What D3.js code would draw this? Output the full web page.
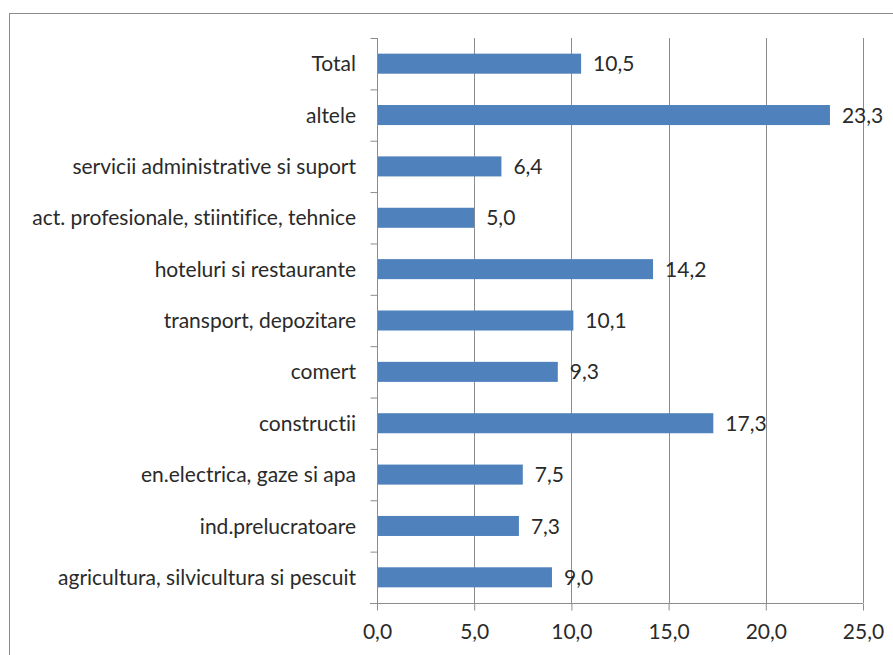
<!DOCTYPE html>
<html><head><meta charset="utf-8">
<script src="https://cdn.jsdelivr.net/npm/d3@7"></script>
<style>body{margin:0;background:#fff;}svg{display:block;}text{font-variant-ligatures:none;}</style>
</head><body>
<script>
const categories = ["Total","altele","servicii administrative si suport","act. profesionale, stiintifice, tehnice","hoteluri si restaurante","transport, depozitare","comert","constructii","en.electrica, gaze si apa","ind.prelucratoare","agricultura, silvicultura si pescuit"];
const values = [10.5,23.3,6.4,5.0,14.2,10.1,9.3,17.3,7.5,7.3,9.0];
const xTicks = [0,5,10,15,20,25];

(function(){
const W=893,H=655;
const svg=d3.select("body").append("svg").attr("width",W).attr("height",H);
svg.append("rect").attr("x",9.5).attr("y",13.5).attr("width",W).attr("height",H).attr("fill","none").attr("stroke","#8c8c8c");

const pLeft=377, pRight=863, pTop=38, pBottom=603;
const x=d3.scaleLinear().domain([0,25]).range([pLeft,pRight]);
const y=d3.scaleBand().domain(categories).range([pTop,pBottom]).paddingInner(0.61).paddingOuter(0.305);
const font="Lato, 'Open Sans', sans-serif";
const fs=21;
const fmt=v=>d3.format(".1f")(v).replace(".",",");

svg.append("g").selectAll("line").data(xTicks.filter(d=>d>0)).join("line")
  .attr("x1",d=>Math.round(x(d))+0.5).attr("x2",d=>Math.round(x(d))+0.5)
  .attr("y1",pTop).attr("y2",pBottom).attr("stroke","#8c8c8c").attr("stroke-width",1);

svg.append("g").selectAll("rect").data(values).join("rect")
  .attr("x",x(0)).attr("y",(d,i)=>y(categories[i])).attr("width",d=>x(d)-x(0)).attr("height",y.bandwidth())
  .attr("fill","#4f81bd");

svg.append("g").selectAll("text").data(values).join("text")
  .attr("x",d=>x(d)+12).attr("y",(d,i)=>y(categories[i])+y.bandwidth()/2).attr("dy","0.36em")
  .attr("font-family",font).attr("font-size",fs).attr("fill","#2a2a2a").text(d=>fmt(d));

const yAxis=d3.axisLeft(d3.scaleLinear().domain([0,categories.length]).range([pTop,pBottom]))
  .tickValues(d3.range(categories.length+1)).tickSize(7).tickFormat("");
const ga=svg.append("g").attr("transform",`translate(${Math.round(x(0))+0.5},0)`).call(yAxis);
ga.select(".domain").attr("stroke","#8c8c8c").attr("d",`M0,${pTop}V${pBottom}`);
ga.selectAll(".tick line").attr("stroke","#8c8c8c");

svg.append("g").selectAll("text").data(categories).join("text")
  .attr("x",x(0)-21).attr("y",d=>y(d)+y.bandwidth()/2).attr("dy","0.36em").attr("text-anchor","end")
  .attr("font-family",font).attr("font-size",fs).attr("fill","#2a2a2a").text(d=>d);

const xAxis=d3.axisBottom(x).tickValues(xTicks).tickSize(7).tickPadding(14).tickFormat(fmt);
const gx=svg.append("g").attr("transform",`translate(0,${pBottom+0.5})`).call(xAxis);
gx.select(".domain").attr("stroke","#8c8c8c").attr("d",`M${pLeft-7},0H${pRight}`);
gx.selectAll(".tick line").attr("stroke","#8c8c8c");
gx.selectAll(".tick text").attr("font-family",font).attr("font-size",fs).attr("fill","#2a2a2a");
})();
</script>
</body></html>
